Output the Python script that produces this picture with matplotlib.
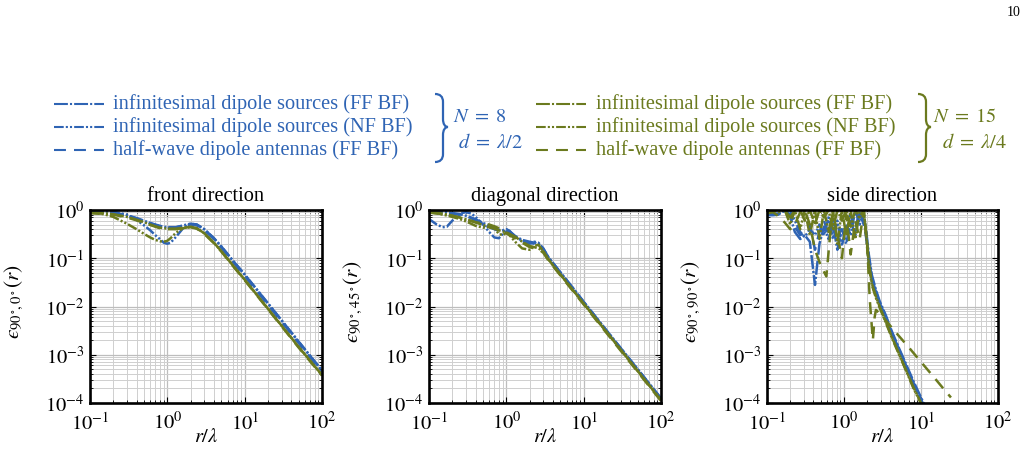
import matplotlib
matplotlib.use('Agg')
import matplotlib.pyplot as plt
from matplotlib.lines import Line2D
from matplotlib.path import Path
from matplotlib.patches import PathPatch
from matplotlib.transforms import Affine2D
from matplotlib.ticker import LogLocator, NullFormatter
import numpy as np

plt.rcParams['font.family'] = ['Liberation Serif', 'DejaVu Serif']
plt.rcParams['mathtext.fontset'] = 'stix'
plt.rcParams['lines.scale_dashes'] = False

BLUE = '#2F64B4'
GREEN = '#6B7A1E'

# ---------------- data ----------------
titles = ['front direction', 'diagonal direction', 'side direction']
ylabels = ['$ϵ_{90^\\circ\\!,0^\\circ}(r)$', '$ϵ_{90^\\circ\\!,45^\\circ}(r)$',
           '$ϵ_{90^\\circ\\!,90^\\circ}(r)$']
xtick_vals = [0.1, 1, 10, 100]
xtick_labels = [r'$10^{-1}$', r'$10^{0}$', r'$10^{1}$', r'$10^{2}$']
ytick_vals = [1e-4, 1e-3, 1e-2, 1e-1, 1]
ytick_labels = [r'$10^{-4}$', r'$10^{-3}$', r'$10^{-2}$', r'$10^{-1}$', r'$10^{0}$']

legend_labels = ['infinitesimal dipole sources (FF BF)',
                 'infinitesimal dipole sources (NF BF)',
                 'half-wave dipole antennas (FF BF)']

# front direction
r_front = [0.1, 0.15, 0.2, 0.3, 0.4, 0.5, 0.6, 0.7, 0.8, 0.9, 1.0, 1.1, 1.3, 1.6, 2.0, 2.4,
           3.0, 4.0, 5.0, 7.0, 10, 20, 50, 100]
front_b_ff = [0.92, 0.92, 0.88, 0.78, 0.68, 0.6, 0.54, 0.5, 0.47, 0.45, 0.44, 0.44, 0.44, 0.48,
              0.52, 0.5, 0.4, 0.26, 0.175, 0.09, 0.046, 0.0116, 0.00186, 4.7e-4]
front_b_nf = [0.95, 0.95, 0.92, 0.8, 0.62, 0.48, 0.38, 0.3, 0.25, 0.21, 0.2, 0.21, 0.28, 0.42,
              0.52, 0.5, 0.4, 0.26, 0.175, 0.09, 0.046, 0.0116, 0.00186, 4.7e-4]
front_b_hw = [0.9, 0.9, 0.86, 0.77, 0.67, 0.59, 0.53, 0.49, 0.46, 0.44, 0.43, 0.43, 0.44, 0.47,
              0.5, 0.48, 0.38, 0.25, 0.165, 0.085, 0.043, 0.0108, 0.00174, 4.4e-4]
front_g_ff = [0.88, 0.86, 0.82, 0.72, 0.63, 0.56, 0.5, 0.46, 0.43, 0.42, 0.41, 0.41, 0.41, 0.43,
              0.45, 0.42, 0.33, 0.21, 0.14, 0.072, 0.036, 0.009, 0.00145, 3.8e-4]
front_g_nf = [0.88, 0.82, 0.72, 0.52, 0.4, 0.32, 0.27, 0.24, 0.225, 0.22, 0.23, 0.26, 0.34, 0.42,
              0.45, 0.42, 0.33, 0.21, 0.14, 0.072, 0.036, 0.009, 0.00145, 3.8e-4]
front_g_hw = [0.86, 0.84, 0.8, 0.7, 0.61, 0.54, 0.49, 0.45, 0.42, 0.41, 0.4, 0.4, 0.4, 0.42,
              0.44, 0.41, 0.32, 0.205, 0.137, 0.07, 0.035, 0.0088, 0.0014, 3.7e-4]

# diagonal direction
r_diag = [0.1, 0.126, 0.15, 0.17, 0.2, 0.25, 0.3, 0.35, 0.4, 0.5, 0.6, 0.7, 0.8, 0.9, 1.0, 1.1,
          1.3, 1.6, 2.0, 2.3, 2.6, 3.0, 3.5, 4.0, 5.0, 7.0, 10, 20, 50, 100]
diag_b_ff = [0.95, 0.93, 0.91, 0.9, 0.87, 0.82, 0.76, 0.7, 0.64, 0.54, 0.47, 0.42, 0.39, 0.38,
             0.4, 0.36, 0.29, 0.24, 0.22, 0.21, 0.2, 0.16, 0.105, 0.08, 0.051, 0.026, 0.0125,
             0.0031, 5e-4, 1.25e-4]
diag_b_nf = [0.65, 0.5, 0.44, 0.45, 0.6, 0.85, 0.9, 0.85, 0.72, 0.5, 0.35, 0.27, 0.26, 0.32,
             0.4, 0.37, 0.28, 0.23, 0.2, 0.22, 0.21, 0.16, 0.105, 0.08, 0.051, 0.026, 0.0125,
             0.0031, 5e-4, 1.25e-4]
diag_b_hw = [0.9, 0.88, 0.86, 0.85, 0.83, 0.8, 0.75, 0.68, 0.6, 0.5, 0.44, 0.4, 0.37, 0.35,
             0.35, 0.33, 0.28, 0.23, 0.21, 0.2, 0.19, 0.15, 0.1, 0.077, 0.049, 0.025, 0.012,
             0.003, 4.8e-4, 1.2e-4]
diag_g_ff = [0.92, 0.88, 0.84, 0.81, 0.76, 0.7, 0.64, 0.59, 0.55, 0.49, 0.44, 0.41, 0.38, 0.36,
             0.34, 0.32, 0.28, 0.22, 0.18, 0.17, 0.16, 0.14, 0.095, 0.072, 0.046, 0.0235, 0.0115,
             0.0029, 4.6e-4, 1.15e-4]
diag_g_nf = [0.9, 0.85, 0.8, 0.77, 0.72, 0.65, 0.58, 0.52, 0.47, 0.43, 0.45, 0.42, 0.32, 0.3,
             0.34, 0.3, 0.22, 0.16, 0.15, 0.18, 0.19, 0.14, 0.095, 0.072, 0.046, 0.0235, 0.0115,
             0.0029, 4.6e-4, 1.15e-4]
diag_g_hw = [0.88, 0.85, 0.82, 0.8, 0.76, 0.7, 0.64, 0.6, 0.56, 0.52, 0.5, 0.46, 0.42, 0.37,
             0.33, 0.3, 0.26, 0.21, 0.17, 0.16, 0.155, 0.13, 0.09, 0.069, 0.044, 0.0225, 0.011,
             0.00275, 4.4e-4, 1.1e-4]

# side direction
r_side = [0.1, 0.12, 0.14, 0.17, 0.2, 0.23, 0.27, 0.31, 0.36, 0.42, 0.48, 0.55, 0.63, 0.72,
          0.82, 0.94, 1.07, 1.22, 1.4, 1.6, 1.8, 1.95, 2.1, 2.3, 2.6, 2.9, 3.5, 4.2, 5.25, 6.5,
          8, 10, 12]
side_b_ff = [0.78, 0.78, 0.8, 1.0, 0.75, 0.35, 0.25, 0.3, 0.22, 0.028, 0.2, 0.45, 0.25, 0.5,
             0.15, 0.4, 0.2, 0.6, 0.3, 0.9, 0.5, 0.35, 0.12, 0.045, 0.022, 0.013, 0.0065, 0.003,
             0.0013, 6e-4, 2.8e-4, 1.3e-4, 7e-5]
side_b_nf = [0.82, 0.82, 0.85, 0.95, 1.0, 0.6, 0.35, 0.28, 0.4, 0.3, 0.5, 0.3, 0.7, 0.25, 0.6,
             0.18, 0.5, 0.3, 1.0, 0.5, 1.0, 0.3, 0.1, 0.04, 0.02, 0.012, 0.006, 0.0028, 0.00125,
             5.6e-4, 2.6e-4, 1.2e-4, 6e-5]
side_b_hw = [0.8, 0.8, 0.85, 1.0, 0.8, 0.45, 0.3, 0.35, 0.5, 0.15, 0.35, 0.6, 0.3, 0.8, 0.25,
             0.5, 0.35, 0.8, 0.4, 1.0, 0.6, 0.25, 0.08, 0.035, 0.019, 0.0115, 0.006, 0.0027,
             0.0012, 5.4e-4, 2.5e-4, 1.15e-4, 6e-5]
side_g_ff = [0.9, 0.95, 1.0, 1.0, 0.7, 1.0, 1.0, 0.6, 1.0, 0.5, 1.0, 0.7, 1.0, 0.4, 1.0, 0.6,
             1.0, 0.45, 1.0, 0.7, 1.0, 0.3, 0.08, 0.03, 0.016, 0.01, 0.0048, 0.0023, 0.001,
             4.5e-4, 2.1e-4, 1e-4, 5e-5]
side_g_nf = [0.92, 1.0, 0.9, 1.0, 0.5, 1.0, 0.4, 1.0, 0.3, 1.0, 0.25, 1.0, 0.35, 1.0, 0.2, 1.0,
             0.3, 1.0, 0.25, 1.0, 1.0, 0.25, 0.07, 0.028, 0.015, 0.0095, 0.0046, 0.0022,
             0.00097, 4.4e-4, 2e-4, 9.8e-5, 5e-5]
r_side_hw = [0.1, 0.12, 0.14, 0.17, 0.2, 0.23, 0.27, 0.31, 0.36, 0.42, 0.5, 0.59, 0.66, 0.72,
             0.82, 0.94, 1.07, 1.22, 1.4, 1.6, 1.8, 2.0, 2.16, 2.37, 2.5, 2.6, 2.9, 3.5, 5.0,
             7.0, 10, 15, 20, 24.5]
side_g_hw = [0.85, 0.9, 0.75, 0.55, 0.4, 0.5, 0.9, 1.0, 0.5, 0.15, 0.07, 0.042, 0.3, 1.0, 0.3,
             0.1, 0.8, 0.12, 0.6, 0.25, 1.0, 0.2, 0.014, 0.002, 0.006, 0.0085, 0.0072, 0.0051,
             0.0026, 0.0014, 7.1e-4, 3.3e-4, 1.9e-4, 1.3e-4]

panels = [
    [(r_front, front_b_ff, front_b_nf, front_b_hw, r_front),
     (r_front, front_g_ff, front_g_nf, front_g_hw, r_front)],
    [(r_diag, diag_b_ff, diag_b_nf, diag_b_hw, r_diag),
     (r_diag, diag_g_ff, diag_g_nf, diag_g_hw, r_diag)],
    [(r_side, side_b_ff, side_b_nf, side_b_hw, r_side),
     (r_side, side_g_ff, side_g_nf, side_g_hw, r_side_hw)],
]

# ---------------- styles ----------------
LS_FF = (0, (10, 1.5, 1.5, 1.5))
LS_NF = (0, (7, 1.5, 1.5, 1.5, 1.5, 1.5))
LS_HW = (0, (8.6, 5.8))
LW = 1.5
LW_PLOT = 1.8
FS = 14.7

W, H = 1028, 456
fig = plt.figure(figsize=(W / 100, H / 100), dpi=100)


def rect(l, t, r, b):
    return [l / W, 1 - b / H, (r - l) / W, (b - t) / H]


axes_px = [(90, 211, 322, 404), (429, 211, 661, 404), (767, 211, 998, 404)]

for i, (l, t, r, b) in enumerate(axes_px):
    ax = fig.add_axes(rect(l, t, r, b))
    ax.set_xscale('log')
    ax.set_yscale('log')
    for color, (rx, ff, nf, hw, rhw) in zip([BLUE, GREEN], panels[i]):
        ax.plot(rx, ff, color=color, lw=LW_PLOT, ls=LS_FF)
        ax.plot(rx, nf, color=color, lw=LW_PLOT, ls=LS_NF)
        ax.plot(rhw, hw, color=color, lw=LW_PLOT, ls=LS_HW)
    ax.set_xlim(0.1, 100)
    ax.set_ylim(1e-4, 1)
    ax.set_xticks(xtick_vals, labels=xtick_labels)
    ax.set_yticks(ytick_vals, labels=ytick_labels)
    ax.xaxis.set_minor_locator(LogLocator(base=10, subs=np.arange(2, 10), numticks=100))
    ax.yaxis.set_minor_locator(LogLocator(base=10, subs=np.arange(2, 10), numticks=100))
    ax.xaxis.set_minor_formatter(NullFormatter())
    ax.yaxis.set_minor_formatter(NullFormatter())
    ax.tick_params(which='both', direction='in', top=True, right=True, labelsize=FS)
    ax.tick_params(which='major', length=4, width=0.8)
    ax.tick_params(which='minor', length=2, width=0.6)
    ax.tick_params(axis='x', which='major', pad=6)
    ax.tick_params(axis='y', which='major', pad=4)
    ax.grid(True, which='major', color='#bdbdbd', lw=0.9)
    ax.grid(True, which='minor', color='#cfcfcf', lw=0.7)
    ax.set_axisbelow(True)
    for s in ax.spines.values():
        s.set_linewidth(1.9)
        s.set_zorder(5)
    ax.set_title(titles[i], fontsize=FS, pad=7)
    ax.set_xlabel(r'$r/\lambda$', fontsize=FS)
    ax.xaxis.set_label_coords(0.5, -0.124)
    ax.xaxis.label.set_va('top')
    ax.set_ylabel(ylabels[i], fontsize=FS + 0.5)
    ax.yaxis.set_label_coords(-0.278, 0.53)

# ---------------- legend ----------------
px2fig = Affine2D().scale(1 / W, -1 / H).translate(0, 1) + fig.transFigure
rows_y = [104.5, 127.5, 150.5]
styles = [LS_FF, LS_NF, LS_HW]


def legend_block(color, x0, x1, xt, xb, xn, xd, ntext, dtext):
    for y, ls, lab in zip(rows_y, styles, legend_labels):
        fig.add_artist(Line2D([x0, x1], [y, y], color=color, lw=LW, ls=ls,
                              transform=px2fig, solid_capstyle='butt', dash_capstyle='butt'))
        fig.text(xt / W, 1 - y / H, lab, color=color, fontsize=FS, ha='left', va='center')
    # brace
    top, bot, mid = 95.0, 163.0, 128.0
    w = 13.0
    xm = xb + 8.0
    tip = xb + w
    rr = 8.0
    verts = [(xb, top), (xb + 5, top), (xm, top + 2.5), (xm, top + rr),
             (xm, mid - rr),
             (xm, mid - 3), (xm + 2, mid), (tip, mid),
             (xm + 2, mid), (xm, mid + 3), (xm, mid + rr),
             (xm, bot - rr),
             (xm, bot - 2.5), (xb + 5, bot), (xb, bot)]
    codes = [Path.MOVETO, Path.CURVE4, Path.CURVE4, Path.CURVE4,
             Path.LINETO,
             Path.CURVE4, Path.CURVE4, Path.CURVE4,
             Path.CURVE4, Path.CURVE4, Path.CURVE4,
             Path.LINETO,
             Path.CURVE4, Path.CURVE4, Path.CURVE4]
    fig.add_artist(PathPatch(Path(verts, codes), fc='none', ec=color, lw=1.6,
                             transform=px2fig))
    fig.text(xn / W, 1 - 117.5 / H, ntext, color=color, fontsize=FS, ha='left', va='center')
    fig.text(xd / W, 1 - 143.5 / H, dtext, color=color, fontsize=FS, ha='left', va='center')


legend_block(BLUE, 54, 104, 113, 435, 453, 458, r'$N\;=\;8$', r'$d\;=\;\lambda/2$')
legend_block(GREEN, 536, 586, 596, 918, 933, 942, r'$N\;=\;15$', r'$d\;=\;\lambda/4$')

fig.text(1014 / W, 1 - 12 / H, '10', fontsize=10, ha='center', va='center')

fig.savefig('out.png', dpi=100)
